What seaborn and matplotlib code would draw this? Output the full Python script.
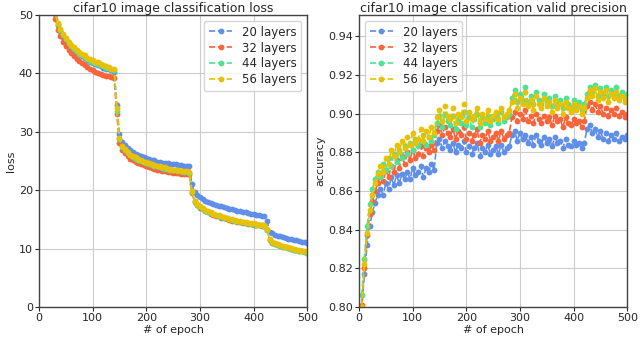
import numpy as np
import pandas as pd
import matplotlib
matplotlib.use("Agg")
import matplotlib.pyplot as plt
import seaborn as sns

epochs = list(range(5, 505, 5))
labels = ["20 layers", "32 layers", "44 layers", "56 layers"]
colors = ["#5f8fe8", "#f8643c", "#4fe294", "#e8c202"]

loss_20 = [95.5, 75.5, 64, 57, 53, 50.1, 48.3, 47.2, 46.3, 45.6, 45.0, 44.5, 44.0, 43.6, 43.3, 42.9, 42.6, 42.3, 42.0, 41.8, 41.6, 41.4, 41.2, 41.0, 40.8, 40.7, 40.5, 40.3,
           34.5, 29.6, 28.3, 27.7, 27.2, 26.8, 26.5, 26.2, 26.0, 25.8, 25.6, 25.5, 25.3, 25.2, 25.1, 24.9, 24.8, 24.7, 24.6, 24.6, 24.5, 24.4, 24.4, 24.3, 24.3, 24.2, 24.2, 24.1,
           21.0, 19.6, 19.1, 18.8, 18.5, 18.2, 18.0, 17.8, 17.6, 17.4, 17.3, 17.2, 17.1, 17.0, 16.8, 16.7, 16.6, 16.5, 16.4, 16.3, 16.2, 16.1, 16.0, 15.9, 15.8, 15.7, 15.6, 15.5,
           14.8, 12.9, 12.6, 12.4, 12.2, 12.1, 11.9, 11.8, 11.7, 11.6, 11.5, 11.4, 11.3, 11.2, 11.1, 11.0]
loss_32 = [94, 74, 63, 56, 52, 49.3, 47.5, 46.4, 45.4, 44.7, 44.0, 43.5, 43.0, 42.5, 42.1, 41.8, 41.4, 41.1, 40.8, 40.6, 40.3, 40.1, 39.9, 39.8, 39.6, 39.5, 39.3, 39.2,
           33.0, 28.0, 26.9, 26.3, 25.8, 25.4, 25.2, 24.9, 24.6, 24.5, 24.3, 24.1, 23.9, 23.8, 23.7, 23.5, 23.5, 23.3, 23.3, 23.1, 23.1, 23.0, 22.9, 22.9, 22.8, 22.8, 22.7, 22.7,
           19.5, 18.0, 17.4, 17.0, 16.7, 16.4, 16.2, 16.0, 15.8, 15.6, 15.5, 15.3, 15.2, 15.1, 14.9, 14.8, 14.7, 14.6, 14.5, 14.4, 14.3, 14.2, 14.2, 14.1, 14.0, 14.0, 13.9, 13.9,
           13.1, 11.5, 11.0, 10.8, 10.6, 10.5, 10.3, 10.2, 10.1, 10.0, 9.8, 9.7, 9.6, 9.5, 9.4, 9.3]
loss_44 = [96, 76, 64.5, 57.5, 53.3, 50.4, 48.5, 47.4, 46.5, 45.8, 45.2, 44.7, 44.2, 43.8, 43.4, 43.1, 42.8, 42.5, 42.2, 42.0, 41.8, 41.6, 41.4, 41.2, 41.0, 40.9, 40.7, 40.5,
           33.6, 28.8, 27.4, 26.8, 26.4, 26.0, 25.7, 25.4, 25.2, 25.0, 24.8, 24.6, 24.5, 24.3, 24.2, 24.1, 23.9, 23.8, 23.7, 23.6, 23.5, 23.4, 23.4, 23.3, 23.2, 23.1, 23.1, 23.0,
           19.7, 18.1, 17.5, 17.1, 16.8, 16.5, 16.3, 16.1, 15.9, 15.7, 15.6, 15.4, 15.3, 15.2, 15.0, 14.9, 14.8, 14.7, 14.6, 14.5, 14.4, 14.3, 14.2, 14.2, 14.1, 14.0, 14.0, 13.9,
           13.2, 11.5, 11.0, 10.8, 10.6, 10.5, 10.3, 10.2, 10.1, 10.0, 9.8, 9.7, 9.6, 9.5, 9.4, 9.3]
loss_56 = [95, 75, 64, 57, 53, 50.3, 48.6, 47.6, 46.7, 46.1, 45.4, 44.9, 44.5, 44.0, 43.7, 43.3, 43.1, 42.7, 42.5, 42.3, 42.0, 41.9, 41.6, 41.5, 41.2, 41.1, 40.8, 40.7,
           34.0, 29.0, 27.6, 27.0, 26.6, 26.1, 25.9, 25.6, 25.3, 25.2, 24.9, 24.8, 24.6, 24.5, 24.3, 24.2, 24.1, 23.9, 23.9, 23.7, 23.7, 23.5, 23.5, 23.4, 23.3, 23.3, 23.2, 23.1,
           19.8, 18.2, 17.6, 17.2, 16.9, 16.6, 16.4, 16.2, 16.0, 15.8, 15.7, 15.5, 15.4, 15.3, 15.1, 15.0, 14.9, 14.8, 14.7, 14.6, 14.5, 14.4, 14.3, 14.3, 14.2, 14.1, 14.1, 14.0,
           13.3, 11.6, 11.1, 10.9, 10.7, 10.6, 10.4, 10.3, 10.2, 10.1, 9.9, 9.8, 9.7, 9.6, 9.5, 9.4]

acc_20 = [0.799, 0.817, 0.832, 0.842, 0.849, 0.854, 0.858, 0.861, 0.858, 0.864, 0.861, 0.867, 0.863, 0.868, 0.864, 0.869, 0.866, 0.870, 0.866, 0.872, 0.868, 0.870, 0.873, 0.867, 0.872, 0.870, 0.874, 0.871,
          0.885, 0.887, 0.882, 0.886, 0.883, 0.881, 0.885, 0.880, 0.884, 0.882, 0.886, 0.880, 0.883, 0.879, 0.882, 0.885, 0.878, 0.882, 0.880, 0.884, 0.879, 0.881, 0.883, 0.879, 0.884, 0.880, 0.882, 0.883,
          0.889, 0.891, 0.886, 0.890, 0.887, 0.889, 0.885, 0.888, 0.884, 0.889, 0.886, 0.884, 0.888, 0.885, 0.887, 0.883, 0.888, 0.885, 0.886, 0.882, 0.887, 0.884, 0.883, 0.886, 0.884, 0.885, 0.882, 0.885,
          0.892, 0.894, 0.890, 0.892, 0.888, 0.891, 0.887, 0.890, 0.886, 0.889, 0.887, 0.890, 0.886, 0.888, 0.887, 0.889]
acc_32 = [0.801, 0.820, 0.837, 0.848, 0.855, 0.860, 0.864, 0.868, 0.865, 0.871, 0.867, 0.873, 0.870, 0.876, 0.872, 0.878, 0.874, 0.880, 0.876, 0.881, 0.877, 0.879, 0.883, 0.878, 0.882, 0.880, 0.884, 0.881,
          0.891, 0.894, 0.889, 0.893, 0.890, 0.888, 0.892, 0.887, 0.891, 0.889, 0.893, 0.887, 0.890, 0.886, 0.889, 0.892, 0.885, 0.889, 0.887, 0.891, 0.886, 0.888, 0.890, 0.886, 0.891, 0.887, 0.889, 0.890,
          0.898, 0.901, 0.896, 0.900, 0.897, 0.902, 0.896, 0.899, 0.895, 0.900, 0.897, 0.895, 0.899, 0.896, 0.898, 0.894, 0.899, 0.896, 0.897, 0.893, 0.898, 0.895, 0.894, 0.897, 0.895, 0.896, 0.893, 0.896,
          0.904, 0.906, 0.902, 0.905, 0.901, 0.904, 0.900, 0.903, 0.899, 0.902, 0.900, 0.903, 0.899, 0.901, 0.898, 0.900]
acc_44 = [0.806, 0.825, 0.842, 0.853, 0.861, 0.866, 0.870, 0.867, 0.874, 0.871, 0.877, 0.873, 0.879, 0.875, 0.881, 0.877, 0.883, 0.879, 0.885, 0.881, 0.887, 0.883, 0.886, 0.889, 0.884, 0.888, 0.886, 0.889,
          0.895, 0.899, 0.893, 0.900, 0.896, 0.894, 0.899, 0.892, 0.897, 0.895, 0.901, 0.894, 0.898, 0.893, 0.897, 0.900, 0.893, 0.898, 0.895, 0.899, 0.894, 0.897, 0.899, 0.895, 0.901, 0.896, 0.898, 0.900,
          0.908, 0.912, 0.906, 0.910, 0.907, 0.914, 0.906, 0.909, 0.905, 0.911, 0.907, 0.905, 0.910, 0.906, 0.908, 0.904, 0.909, 0.905, 0.907, 0.903, 0.908, 0.905, 0.903, 0.907, 0.904, 0.906, 0.902, 0.905,
          0.910, 0.914, 0.911, 0.915, 0.909, 0.913, 0.910, 0.914, 0.909, 0.912, 0.910, 0.914, 0.909, 0.911, 0.908, 0.910]
acc_56 = [0.800, 0.822, 0.838, 0.850, 0.858, 0.864, 0.869, 0.873, 0.870, 0.877, 0.874, 0.881, 0.878, 0.884, 0.880, 0.886, 0.882, 0.888, 0.884, 0.890, 0.885, 0.887, 0.892, 0.886, 0.891, 0.888, 0.893, 0.890,
          0.898, 0.902, 0.896, 0.904, 0.899, 0.897, 0.903, 0.895, 0.900, 0.898, 0.905, 0.896, 0.901, 0.897, 0.899, 0.903, 0.895, 0.900, 0.897, 0.902, 0.896, 0.899, 0.901, 0.897, 0.903, 0.898, 0.900, 0.902,
          0.906, 0.910, 0.903, 0.908, 0.905, 0.911, 0.904, 0.907, 0.902, 0.909, 0.905, 0.903, 0.908, 0.904, 0.906, 0.901, 0.907, 0.903, 0.905, 0.900, 0.906, 0.903, 0.901, 0.905, 0.902, 0.904, 0.900, 0.903,
          0.908, 0.912, 0.909, 0.913, 0.907, 0.911, 0.908, 0.912, 0.906, 0.910, 0.908, 0.911, 0.907, 0.909, 0.906, 0.908]

sns.set_style("whitegrid", {"axes.edgecolor": "#444444", "grid.color": "#cccccc"})
plt.rcParams["font.family"] = ["DejaVu Sans"]

fig = plt.figure(figsize=(6.4, 3.48), dpi=100)
ax1 = fig.add_axes([0.061, 0.118, 0.419, 0.839])
ax2 = fig.add_axes([0.561, 0.118, 0.419, 0.839])

loss_sets = [loss_20, loss_32, loss_44, loss_56]
acc_sets = [acc_20, acc_32, acc_44, acc_56]

for ax, sets in [(ax1, loss_sets), (ax2, acc_sets)]:
    for lab, col, vals in zip(labels, colors, sets):
        sns.lineplot(x=epochs, y=vals, ax=ax, color=col, label=lab,
                     linestyle="--", marker="o", markersize=4.2,
                     markeredgewidth=0, linewidth=1.2)

ax1.set_xlim(0, 500)
ax1.set_ylim(0, 50)
ax1.set_yticks([0, 10, 20, 30, 40, 50])
ax1.set_title("cifar10 image classification loss", fontsize=9, pad=2)
ax1.set_xlabel("# of epoch", fontsize=8, labelpad=1)
ax1.set_ylabel("loss", fontsize=8, labelpad=2)
ax1.legend(loc="upper right", fontsize=8.5, handlelength=2, borderpad=0.4,
           labelspacing=0.25, frameon=True)

ax2.set_xlim(0, 500)
ax2.set_ylim(0.80, 0.951)
ax2.set_yticks([0.80, 0.82, 0.84, 0.86, 0.88, 0.90, 0.92, 0.94])
ax2.set_title("cifar10 image classification valid precision", fontsize=9, pad=2)
ax2.set_xlabel("# of epoch", fontsize=8, labelpad=1)
ax2.set_ylabel("accuracy", fontsize=8, labelpad=2)
ax2.legend(loc="upper left", fontsize=8.5, handlelength=2, borderpad=0.4,
           labelspacing=0.25, frameon=True)

for ax in (ax1, ax2):
    ax.set_xticks([0, 100, 200, 300, 400, 500])
    ax.tick_params(labelsize=8, length=3, pad=1.5, left=True, bottom=True)
    for s in ax.spines.values():
        s.set_linewidth(1.0)

fig.savefig("out.png", dpi=100)
